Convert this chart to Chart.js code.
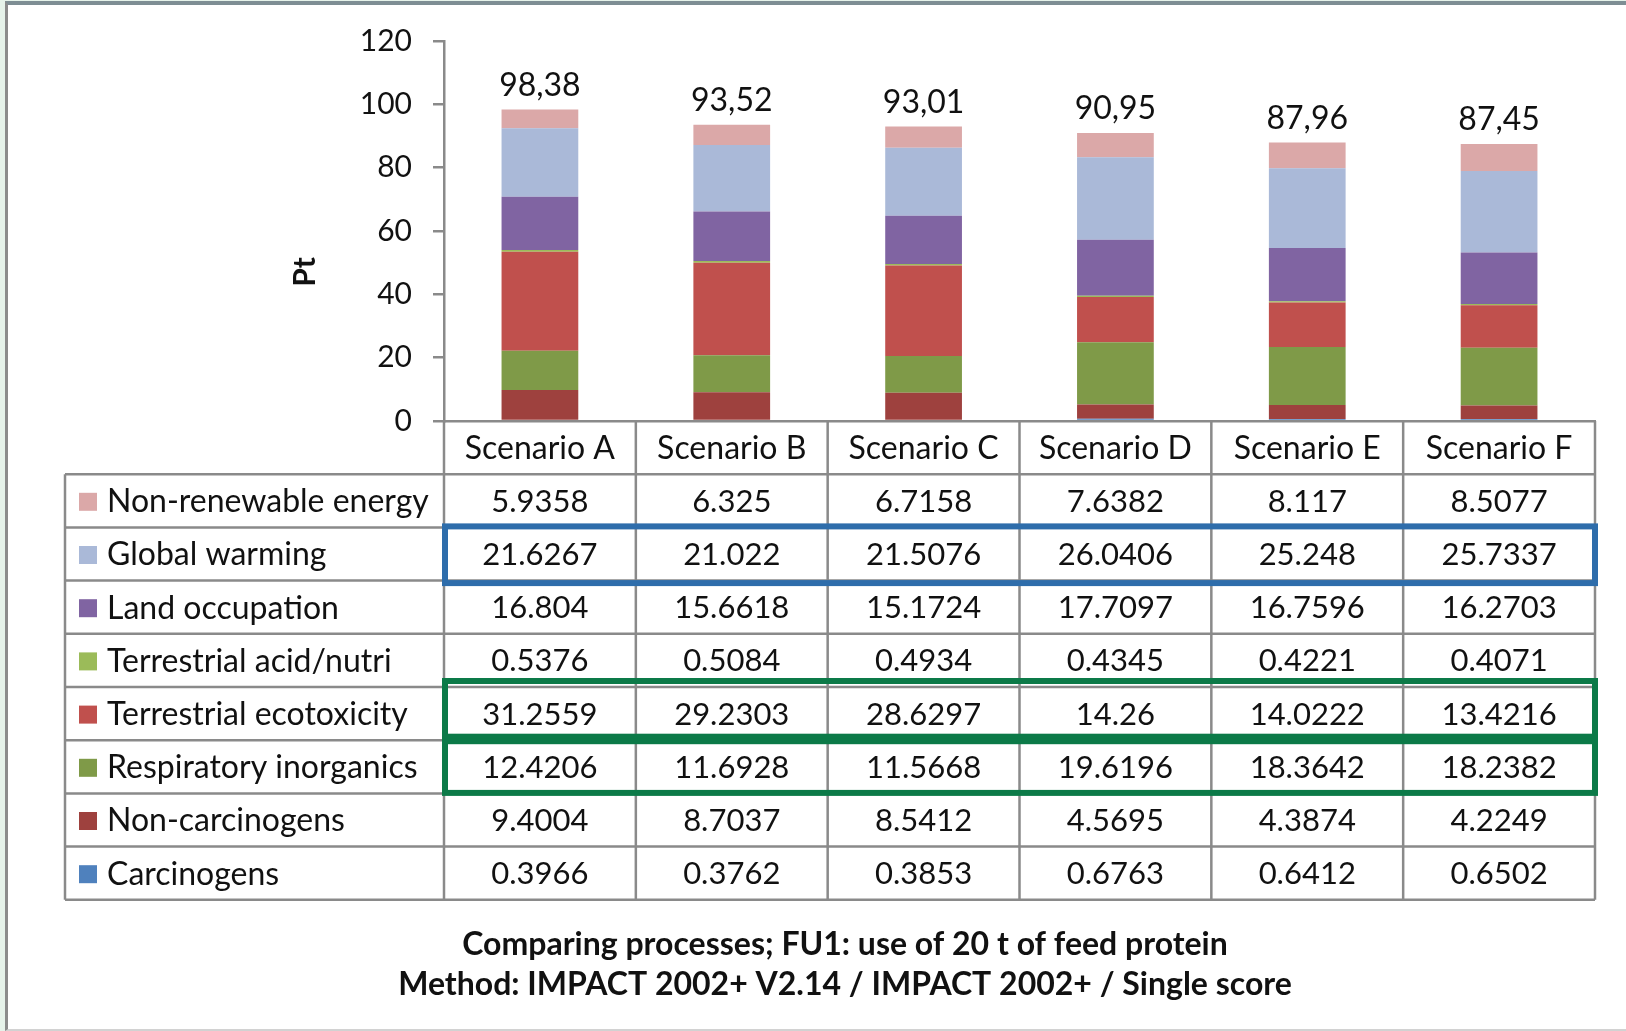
<!DOCTYPE html>
<html lang="en">
<head>
<meta charset="UTF-8">
<title>Comparing processes - single score</title>
<style>
    body {
        margin: 0;
        width: 1626px;
        height: 1031px;
        overflow: hidden;
        background: #e6f3ea;
    }
    #frame {
        position: absolute;
        left: 5px;
        top: 1px;
        width: 1621px;
        height: 1030px;
        box-sizing: border-box;
        background: #fff;
        border-left: 3px solid #8c8c8c;
        border-top: 4px solid #7e8e94;
        border-bottom: 2px solid #d2d2d2;
    }
    #chart {
        position: absolute;
        left: 0;
        top: 0;
    }
</style>
</head>
<body>
<div id="frame"></div>
<canvas id="chart" width="1626" height="1031"></canvas>

<script src="https://cdn.jsdelivr.net/npm/chart.js"></script>
<script>
    const FONT = 'Lato, "Open Sans", sans-serif';

    // categories
    const scenarios = ['Scenario A', 'Scenario B', 'Scenario C', 'Scenario D', 'Scenario E', 'Scenario F'];

    // series values (stack order, bottom first)
    const carcinogens            = [0.3966, 0.3762, 0.3853, 0.6763, 0.6412, 0.6502];
    const nonCarcinogens         = [9.4004, 8.7037, 8.5412, 4.5695, 4.3874, 4.2249];
    const respiratoryInorganics  = [12.4206, 11.6928, 11.5668, 19.6196, 18.3642, 18.2382];
    const terrestrialEcotoxicity = [31.2559, 29.2303, 28.6297, 14.26, 14.0222, 13.4216];
    const terrestrialAcidNutri   = [0.5376, 0.5084, 0.4934, 0.4345, 0.4221, 0.4071];
    const landOccupation         = [16.804, 15.6618, 15.1724, 17.7097, 16.7596, 16.2703];
    const globalWarming          = [21.6267, 21.022, 21.5076, 26.0406, 25.248, 25.7337];
    const nonRenewableEnergy     = [5.9358, 6.325, 6.7158, 7.6382, 8.117, 8.5077];

    // y axis ticks
    const yMin = 0, yMax = 120, yStep = 20;

    const titleLines = [
        'Comparing processes; FU1: use of 20 t of feed protein',
        'Method: IMPACT 2002+ V2.14 / IMPACT 2002+ / Single score'
    ];

    const datasets = [
        { label: 'Carcinogens', data: carcinogens, backgroundColor: '#4f81bd' },
        { label: 'Non-carcinogens', data: nonCarcinogens, backgroundColor: '#9e413e' },
        { label: 'Respiratory inorganics', data: respiratoryInorganics, backgroundColor: '#7f9a48' },
        { label: 'Terrestrial ecotoxicity', data: terrestrialEcotoxicity, backgroundColor: '#c0504d' },
        { label: 'Terrestrial acid/nutri', data: terrestrialAcidNutri, backgroundColor: '#9bbb59' },
        { label: 'Land occupation', data: landOccupation, backgroundColor: '#8064a2' },
        { label: 'Global warming', data: globalWarming, backgroundColor: '#aab9d8' },
        { label: 'Non-renewable energy', data: nonRenewableEnergy, backgroundColor: '#dba8a8' }
    ];

    // rows outlined in the data table
    const highlights = [
        { row: 'Global warming', color: '#2e6dab', top: -1, bottom: 2.5 },
        { row: 'Terrestrial ecotoxicity', color: '#0c7a48', top: -6, bottom: -3.5 },
        { row: 'Respiratory inorganics', color: '#0c7a48', top: 1, bottom: -0.5 }
    ];

    const GRID = '#8a8a8a';
    const ROW_H = 53.2;

    // totals above each bar
    const totalsPlugin = {
        id: 'totals',
        afterDatasetsDraw(chart) {
            const { ctx, scales: { x, y } } = chart;
            ctx.save();
            ctx.font = '32px ' + FONT;
            ctx.fillStyle = '#111';
            ctx.textAlign = 'center';
            ctx.textBaseline = 'middle';
            scenarios.forEach((s, i) => {
                const total = datasets.reduce((sum, d) => sum + d.data[i], 0);
                ctx.fillText(total.toFixed(2).replace('.', ','), x.getPixelForValue(i), y.getPixelForValue(total) - 24);
            });
            ctx.restore();
        }
    };

    // data table under the plot, axis title and bottom caption
    const tablePlugin = {
        id: 'dataTable',
        afterDraw(chart) {
            const { ctx, chartArea, scales: { x } } = chart;
            const colW = x.getPixelForValue(1) - x.getPixelForValue(0);
            const left = x.getPixelForValue(0) - colW / 2;
            const right = x.getPixelForValue(scenarios.length - 1) + colW / 2;
            const top = chartArea.bottom;
            const rows = datasets.slice().reverse();
            const labelLeft = 65;
            const bottom = top + ROW_H * (rows.length + 1);

            ctx.save();
            ctx.strokeStyle = GRID;
            ctx.lineWidth = 2.5;
            ctx.beginPath();
            for (let r = 1; r <= rows.length + 1; r++) {
                const yy = top + r * ROW_H;
                ctx.moveTo(labelLeft, yy);
                ctx.lineTo(right, yy);
            }
            for (let c = 0; c <= scenarios.length; c++) {
                const xx = left + c * colW;
                ctx.moveTo(xx, top);
                ctx.lineTo(xx, bottom);
            }
            ctx.moveTo(labelLeft, top + ROW_H);
            ctx.lineTo(labelLeft, bottom);
            ctx.stroke();

            ctx.font = '32px ' + FONT;
            ctx.fillStyle = '#111';
            ctx.textBaseline = 'middle';
            ctx.textAlign = 'center';
            scenarios.forEach((s, i) => {
                ctx.fillText(s, x.getPixelForValue(i), top + ROW_H / 2 + 1);
            });

            rows.forEach((d, r) => {
                const cy = top + (r + 1.5) * ROW_H + 1;
                ctx.fillStyle = d.backgroundColor;
                ctx.fillRect(79, cy - 9, 18, 18);
                ctx.fillStyle = '#111';
                ctx.textAlign = 'left';
                ctx.font = '32px ' + FONT;
                ctx.fillText(d.label, 107, cy);
                ctx.textAlign = 'center';
                ctx.font = '31px ' + FONT;
                d.data.forEach((v, i) => ctx.fillText(String(v), x.getPixelForValue(i), cy));
            });

            ctx.lineWidth = 6;
            highlights.forEach(h => {
                const r = rows.findIndex(d => d.label === h.row);
                const y0 = top + (r + 1) * ROW_H + h.top;
                const y1 = top + (r + 2) * ROW_H + h.bottom;
                ctx.strokeStyle = h.color;
                ctx.strokeRect(left + 1, y0, right - left - 1, y1 - y0);
            });

            // y axis title
            ctx.save();
            ctx.translate(305, 272);
            ctx.rotate(-Math.PI / 2);
            ctx.font = 'bold 30px ' + FONT;
            ctx.fillStyle = '#111';
            ctx.textAlign = 'center';
            ctx.fillText('Pt', 0, 0);
            ctx.restore();

            // caption
            ctx.font = 'bold 32px ' + FONT;
            ctx.fillStyle = '#111';
            ctx.textAlign = 'center';
            titleLines.forEach((t, i) => ctx.fillText(t, 845, 945 + i * 40));
            ctx.restore();
        }
    };

    new Chart(document.getElementById('chart'), {
        type: 'bar',
        data: { labels: scenarios, datasets: datasets },
        options: {
            responsive: false,
            animation: false,
            layout: { padding: { left: 284, top: 41, right: 31, bottom: 0 } },
            datasets: { bar: { categoryPercentage: 0.4, barPercentage: 1 } },
            plugins: { legend: { display: false }, tooltip: { enabled: false } },
            scales: {
                x: {
                    stacked: true,
                    ticks: { display: false },
                    grid: { display: false },
                    border: { color: GRID, width: 2.5 },
                    afterFit(scale) { scale.height = 610; }
                },
                y: {
                    stacked: true,
                    min: yMin,
                    max: yMax,
                    ticks: { stepSize: yStep, padding: 21, color: '#111', font: { family: FONT, size: 30 } },
                    grid: { drawOnChartArea: false, tickLength: 11, color: GRID, lineWidth: 2.5 },
                    border: { color: GRID, width: 2.5 },
                    afterFit(scale) { scale.width = 160; }
                }
            }
        },
        plugins: [totalsPlugin, tablePlugin]
    });
</script>
</body>
</html>
